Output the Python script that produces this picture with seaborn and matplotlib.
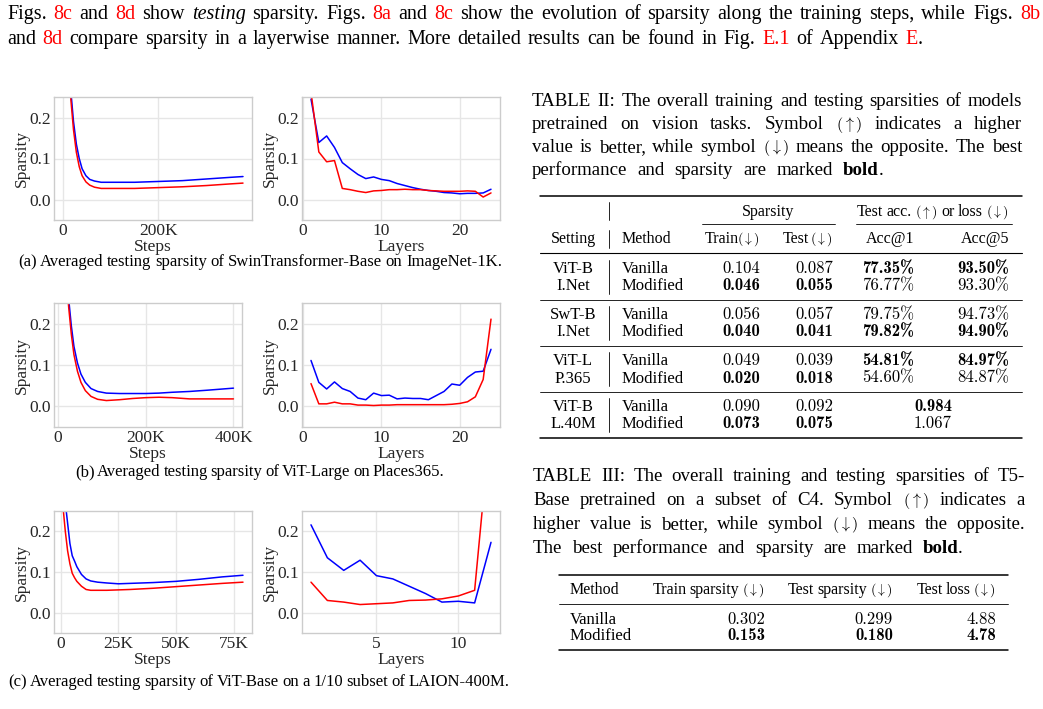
import re
import seaborn as sns
import matplotlib.pyplot as plt
from matplotlib.lines import Line2D
from matplotlib.ticker import FuncFormatter

W, H = 1043, 709

# (a) SwinTransformer-Base on ImageNet-1K
swin_steps = [0, 8000, 16000, 22000, 28000, 34000, 40000, 48000, 56000, 66000,
              80000, 100000, 150000, 200000, 250000, 300000, 350000, 377000]
swin_vanilla = [0.52, 0.38, 0.27, 0.19, 0.135, 0.10, 0.075, 0.058, 0.049, 0.045,
                0.042, 0.042, 0.042, 0.044, 0.046, 0.050, 0.054, 0.056]
swin_modified = [0.50, 0.36, 0.25, 0.17, 0.115, 0.08, 0.058, 0.043, 0.035, 0.030,
                 0.027, 0.027, 0.027, 0.029, 0.031, 0.034, 0.038, 0.040]
swin_layers = list(range(1, 25))
swin_layer_vanilla = [0.245, 0.139, 0.155, 0.127, 0.090, 0.075, 0.061, 0.051, 0.055, 0.049, 0.046, 0.039,
                      0.034, 0.029, 0.025, 0.022, 0.020, 0.017, 0.016, 0.014, 0.015, 0.015, 0.016, 0.025]
swin_layer_modified = [0.262, 0.116, 0.092, 0.095, 0.027, 0.024, 0.020, 0.017, 0.021, 0.022, 0.024, 0.024,
                       0.025, 0.024, 0.024, 0.022, 0.021, 0.020, 0.020, 0.020, 0.021, 0.020, 0.006, 0.016]

# (b) ViT-Large on Places365
places_steps = [10000, 18000, 24000, 30000, 36000, 44000, 52000, 62000, 75000, 90000,
                110000, 140000, 170000, 200000, 230000, 260000, 300000, 340000, 400000]
places_vanilla = [0.47, 0.34, 0.26, 0.195, 0.145, 0.105, 0.078, 0.058, 0.043, 0.036,
                  0.032, 0.031, 0.031, 0.031, 0.032, 0.034, 0.036, 0.039, 0.044]
places_modified = [0.45, 0.32, 0.24, 0.175, 0.125, 0.085, 0.058, 0.038, 0.024, 0.017,
                   0.014, 0.016, 0.019, 0.021, 0.022, 0.021, 0.018, 0.018, 0.018]
places_layers = list(range(1, 25))
places_layer_vanilla = [0.111, 0.058, 0.042, 0.059, 0.043, 0.036, 0.020, 0.016, 0.032, 0.026, 0.027, 0.018,
                        0.020, 0.019, 0.019, 0.016, 0.026, 0.036, 0.054, 0.051, 0.070, 0.083, 0.085, 0.138]
places_layer_modified = [0.055, 0.006, 0.006, 0.010, 0.006, 0.006, 0.003, 0.003, 0.002, 0.003, 0.003, 0.004,
                         0.004, 0.004, 0.004, 0.004, 0.004, 0.004, 0.005, 0.007, 0.011, 0.023, 0.065, 0.211]

# (c) ViT-Base on 1/10 of LAION-400M
laion_steps = [1000, 2000, 3000, 4000, 5000, 6000, 7000, 9000, 11000, 13000,
               16000, 20000, 25000, 30000, 40000, 50000, 60000, 70000, 79000]
laion_vanilla = [0.34, 0.27, 0.22, 0.17, 0.14, 0.127, 0.113, 0.094, 0.083, 0.078,
                 0.075, 0.073, 0.071, 0.072, 0.074, 0.077, 0.082, 0.088, 0.092]
laion_modified = [0.26, 0.20, 0.152, 0.12, 0.097, 0.086, 0.077, 0.065, 0.057, 0.055,
                  0.055, 0.055, 0.056, 0.057, 0.060, 0.064, 0.068, 0.072, 0.075]
laion_layers = list(range(1, 13))
laion_layer_vanilla = [0.216, 0.135, 0.104, 0.129, 0.091, 0.083, 0.065, 0.047, 0.026, 0.028, 0.024, 0.173]
laion_layer_modified = [0.075, 0.030, 0.026, 0.020, 0.022, 0.024, 0.030, 0.031, 0.034, 0.041, 0.055, 0.48]

# Table II
t2_model = ["ViT-B", "SwT-B", "ViT-L", "ViT-B"]
t2_dataset = ["I.Net", "I.Net", "P.365", "L.40M"]
t2_methods = ["Vanilla", "Modified"]
t2_train = [(0.104, 0.046), (0.056, 0.040), (0.049, 0.020), (0.090, 0.073)]
t2_test = [(0.087, 0.055), (0.057, 0.041), (0.039, 0.018), (0.092, 0.075)]
t2_acc1 = [(77.35, 76.77), (79.75, 79.82), (54.81, 54.60)]
t2_acc5 = [(93.50, 93.30), (94.73, 94.90), (84.97, 84.87)]
t2_loss = (0.984, 1.067)

# Table III
t3_methods = ["Vanilla", "Modified"]
t3_train = [0.302, 0.153]
t3_test = [0.299, 0.180]
t3_loss = [4.88, 4.78]

sns.set_theme(style="whitegrid")
plt.rcParams['font.family'] = ['Liberation Serif', 'DejaVu Serif']
plt.rcParams['mathtext.fontset'] = 'cm'

fig = plt.figure(figsize=(W / 100, H / 100), dpi=100)
renderer = fig.canvas.get_renderer()

BODY, CAP, SUB, TAB, HEAD, NUM = 14.5, 13.6, 12.0, 12, 11.5, 12

UP, DOWN = r'[a:$(\uparrow)$]', r'[a:$(\downarrow)$]'


def box(left, top, right, bottom):
    return [left / W, 1 - bottom / H, (right - left) / W, (bottom - top) / H]


def txt(x, y, s, ha='left', size=TAB, **kw):
    kw.setdefault('color', 'black')
    kw.setdefault('fontsize', size)
    return fig.text(x / W, 1 - y / H, s, ha=ha, va='baseline', **kw)


def num(x, y, v, fmt, bold=False, ha='right', suffix=''):
    # Computer Modern digits, bold face for the best entries
    txt(x, y, format(v, fmt) + suffix, ha=ha, size=NUM, family='cmb10' if bold else 'cmr10')


def hline(x0, x1, y, lw=0.6):
    fig.add_artist(Line2D([x0 / W, x1 / W], [1 - y / H, 1 - y / H], color='black', lw=lw))


def vline(x, y0, y1, lw=0.6):
    fig.add_artist(Line2D([x / W, x / W], [1 - y0 / H, 1 - y1 / H], color='black', lw=lw))


def rich_line(line, y, x0, x1, size=CAP):
    # words spread between x0 and x1; [r:..] red, [i:..] italic, [b:..] bold, [a:..] arrow
    styles = {'r': {'color': 'red'}, 'i': {'style': 'italic'}, 'b': {'weight': 'bold'},
              'a': {'fontsize': size * 0.85}}
    words = []
    for word in line.split():
        segs = []
        for key, marked, plain in re.findall(r'\[(\w):([^\]]+)\]|([^\[]+)', word):
            props = styles[key] if key else {}
            t = txt(0, y, marked or plain, size=size, **props)
            segs.append((t, t.get_window_extent(renderer).width))
        words.append(segs)
    total = sum(w for segs in words for _, w in segs)
    gap = (x1 - x0 - total) / max(len(words) - 1, 1)
    cursor = x0
    for segs in words:
        for t, w in segs:
            t.set_x(cursor / W)
            cursor += w
        cursor += gap


def draw_panel(rect, x, vanilla, modified, xlabel, xticks, steps=False):
    ax = fig.add_axes(box(*rect))
    sns.lineplot(x=x, y=vanilla, ax=ax, color='#0000ff', lw=1.1)
    sns.lineplot(x=x, y=modified, ax=ax, color='#ff0000', lw=1.1)
    ax.set_ylim(-0.05, 0.25)
    ax.set_yticks([0.0, 0.1, 0.2])
    ax.set_yticklabels(['0.0', '0.1', '0.2'])
    ax.set_xticks(xticks)
    if steps:
        ax.xaxis.set_major_formatter(FuncFormatter(lambda v, _: '0' if v == 0 else f'{v / 1000:.0f}K'))
    ax.set_xlabel(xlabel, fontsize=12.5, labelpad=0)
    ax.set_ylabel('Sparsity', fontsize=12.5, labelpad=0)
    ax.tick_params(length=0, labelsize=12.5, pad=2)
    ax.grid(True, color='#e6e6e6', lw=1.0)
    for sp in ax.spines.values():
        sp.set_color('#cccccc')
        sp.set_linewidth(1.0)
    return ax


draw_panel((54, 97, 252, 220), swin_steps, swin_vanilla, swin_modified, 'Steps', [0, 200000], steps=True)
draw_panel((302, 97, 500, 220), swin_layers, swin_layer_vanilla, swin_layer_modified, 'Layers', [0, 10, 20])
draw_panel((54, 303, 242, 427), places_steps, places_vanilla, places_modified, 'Steps',
           [0, 200000, 400000], steps=True)
draw_panel((302, 303, 500, 427), places_layers, places_layer_vanilla, places_layer_modified, 'Layers', [0, 10, 20])
draw_panel((54, 511, 252, 633), laion_steps, laion_vanilla, laion_modified, 'Steps',
           [0, 25000, 50000, 75000], steps=True)
draw_panel((302, 511, 500, 633), laion_layers, laion_layer_vanilla, laion_layer_modified, 'Layers', [5, 10])

# body text above the figures
rich_line("Figs. [r:8c] and [r:8d] show [i:testing] sparsity. Figs. [r:8a] and [r:8c] show the evolution of "
          "sparsity along the training steps, while Figs. [r:8b]", 19, 7, 1040, size=BODY)
rich_line("and [r:8d] compare sparsity in a layerwise manner. More detailed results can be found in "
          "Fig. [r:E.1] of Appendix [r:E].", 44, 7, 923, size=BODY)

# sub-figure captions
rich_line("(a) Averaged testing sparsity of SwinTransformer-Base on ImageNet-1K.", 266, 18, 502, size=SUB)
rich_line("(b) Averaged testing sparsity of ViT-Large on Places365.", 476, 75, 444, size=SUB)
rich_line("(c) Averaged testing sparsity of ViT-Base on a 1/10 subset of LAION-400M.", 686, 8, 510, size=SUB)

# Table II caption
rich_line("TABLE II: The overall training and testing sparsities of models", 106, 532, 1022)
rich_line(f"pretrained on vision tasks. Symbol {UP} indicates a higher", 129, 532, 1022)
rich_line(f"value is better, while symbol {DOWN} means the opposite. The best", 152, 532, 1022)
rich_line("performance and sparsity are marked [b:bold].", 175, 532, 883)

# Table II
hline(540, 1022, 196, lw=1.1)
vline(609, 202, 220)
txt(768, 216, 'Sparsity', ha='center', size=HEAD)
rich_line(f"Test acc. {UP} or loss {DOWN}", 216, 857, 1009, size=HEAD)
hline(702, 835, 224)
hline(856, 1012, 224)
txt(573, 243, 'Setting', ha='center', size=HEAD)
vline(609, 230, 248)
txt(622, 243, 'Method', size=HEAD)
rich_line(f"Train {DOWN}", 243, 705, 760, size=HEAD)
rich_line(f"Test {DOWN}", 243, 783, 833, size=HEAD)
txt(914, 243, 'Acc@1', ha='right', size=HEAD)
txt(1009, 243, 'Acc@5', ha='right', size=HEAD)
hline(540, 1022, 253, lw=0.8)

for g in range(4):
    y0 = 273 + 46 * g
    rows = (y0, y0 + 17.5)
    txt(573, rows[0], t2_model[g], ha='center')
    txt(573, rows[1], t2_dataset[g], ha='center')
    vline(609, y0 - 13, y0 + 21)
    for i, y in enumerate(rows):
        txt(622, y, t2_methods[i])
        num(760, y, t2_train[g][i], '.3f', t2_train[g][i] == min(t2_train[g]))
        num(833, y, t2_test[g][i], '.3f', t2_test[g][i] == min(t2_test[g]))
        if g < 3:
            a1, a5 = t2_acc1[g], t2_acc5[g]
            num(914, y, a1[i], '.2f', a1[i] == max(a1), suffix='%')
            num(1009, y, a5[i], '.2f', a5[i] == max(a5), suffix='%')
        else:
            num(933, y, t2_loss[i], '.3f', t2_loss[i] == min(t2_loss), ha='center')
    if g < 3:
        hline(540, 1022, y0 + 27)
hline(540, 1022, 438, lw=1.1)

# Table III caption
rich_line("TABLE III: The overall training and testing sparsities of T5-", 481, 533, 1025)
rich_line(f"Base pretrained on a subset of C4. Symbol {UP} indicates a", 505, 533, 1025)
rich_line(f"higher value is better, while symbol {DOWN} means the opposite.", 529, 533, 1025)
rich_line("The best performance and sparsity are marked [b:bold].", 553, 533, 963)

# Table III
hline(559, 1008, 575, lw=1.1)
txt(570, 594, 'Method', size=HEAD)
rich_line(f"Train sparsity {DOWN}", 594, 653, 765, size=HEAD)
rich_line(f"Test sparsity {DOWN}", 594, 788, 893, size=HEAD)
rich_line(f"Test loss {DOWN}", 594, 917, 996, size=HEAD)
hline(559, 1008, 604)
for i, y in enumerate([624, 640]):
    txt(570, y, t3_methods[i])
    num(765, y, t3_train[i], '.3f', t3_train[i] == min(t3_train))
    num(893, y, t3_test[i], '.3f', t3_test[i] == min(t3_test))
    num(996, y, t3_loss[i], '.2f', t3_loss[i] == min(t3_loss))
hline(559, 1008, 650, lw=1.1)

fig.savefig('out.png', dpi=100)
